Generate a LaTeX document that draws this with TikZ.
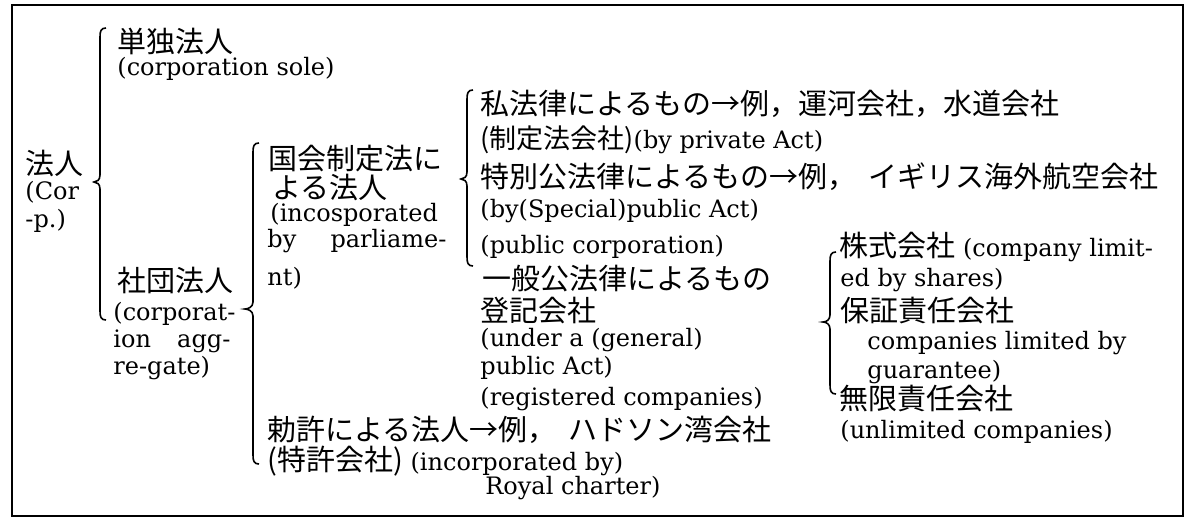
\documentclass[tikz,border=0pt]{standalone}
\usepackage{fontspec}
\setmainfont{DejaVu Serif}
\newfontfamily\cjkfont{Noto Sans CJK JP}
\newcommand\jt[1]{{\cjkfont\fontsize{14.5pt}{16pt}\selectfont #1}}
\newcommand\js[1]{{\cjkfont\fontsize{13.5pt}{15pt}\selectfont #1}}
\newcommand\mybrace[5]{%
  \draw[brc] ({#1+6},#2) .. controls ({#1+1},#2) and (#1,{#2+3}) .. (#1,{#2+9})
    -- (#1,{#4-7}) .. controls (#1,{#4-2}) and ({#3+3},#4) .. (#3,#4)
    .. controls ({#3+3},#4) and (#1,{#4+2}) .. (#1,{#4+7})
    -- (#1,{#5-9}) .. controls (#1,{#5-3}) and ({#1+1},#5) .. ({#1+6},#5);}
\begin{document}
\begin{tikzpicture}[x=0.5pt,y=-0.5pt,
  lbl/.style={anchor=base west, inner sep=0pt, font={\fontsize{12pt}{14pt}\selectfont}},
  brc/.style={line width=0.8pt},
  frame/.style={line width=1.2pt}]
\useasboundingbox (0,0) rectangle (1186,520);
\draw[frame] (12,5) rectangle (1183,516);
% column A
\node[lbl] (a1) at (25,174) {\jt{法人}};
\node[lbl] (a2) at (25,199) {(Cor};
\node[lbl] (a3) at (25,227) {-p.)};
\mybrace{100}{28}{94}{182}{320}
% column B
\node[lbl] (b1) at (117,52) {\jt{単独法人}};
\node[lbl] (b2) at (117,75) {(corporation sole)};
\node[lbl] (b3) at (117,291) {\jt{社団法人}};
\node[lbl] (b4) at (113,320) {(corporat-};
\node[lbl] (b5) at (113,347) {\hbox to 58.5pt{ion\hfill agg-}};
\node[lbl] (b6) at (113,374) {re-gate)};
\mybrace{253}{143}{245}{309}{464}
% column C
\node[lbl] (c1) at (268,169) {\jt{国会制定法に}};
\node[lbl] (c2) at (272,198) {\jt{よる法人}};
\node[lbl] (c3) at (270,221) {(incosporated};
\node[lbl] (c4) at (267,247) {\hbox to 89.5pt{by\hfill parliame-}};
\node[lbl] (c5) at (267,285) {nt)};
\node[lbl] (c6) at (267,440) {\jt{勅許による法人→例，\hspace{6pt}ハドソン湾会社}};
\node[lbl] (c7) at (267,470) {\jt{(特許会社)} (incorporated by)};
\node[lbl] (c8) at (485,494) {Royal charter)};
\mybrace{467}{90}{461}{179}{266}
% column D
\node[lbl] (d1) at (480,114) {\jt{私法律によるもの→例，運河会社，水道会社}};
\node[lbl] (d2) at (480,148) {\js{(制定法会社)}(by private Act)};
\node[lbl] (d3) at (480,187) {\jt{特別公法律によるもの→例，\hspace{6pt}イギリス海外航空会社}};
\node[lbl] (d4) at (480,217) {(by(Special)public Act)};
\node[lbl] (d5) at (480,253) {(public corporation)};
\node[lbl] (d6) at (482,289) {\jt{一般公法律によるもの}};
\node[lbl] (d7) at (480,321) {\jt{登記会社}};
\node[lbl] (d8) at (480,346) {(under a (general)};
\node[lbl] (d9) at (480,374) {public Act)};
\node[lbl] (d10) at (480,405) {(registered companies)};
% column E
\mybrace{830}{252}{823}{322}{394}
\node[lbl] (e1) at (839,256) {\jt{株式会社} (company limit-};
\node[lbl] (e2) at (840,286) {ed by shares)};
\node[lbl] (e3) at (840,321) {\jt{保証責任会社}};
\node[lbl] (e4) at (867,349) {companies limited by};
\node[lbl] (e5) at (867,378) {guarantee)};
\node[lbl] (e6) at (839,409) {\jt{無限責任会社}};
\node[lbl] (e7) at (840,438) {(unlimited companies)};
\end{tikzpicture}
\end{document}
